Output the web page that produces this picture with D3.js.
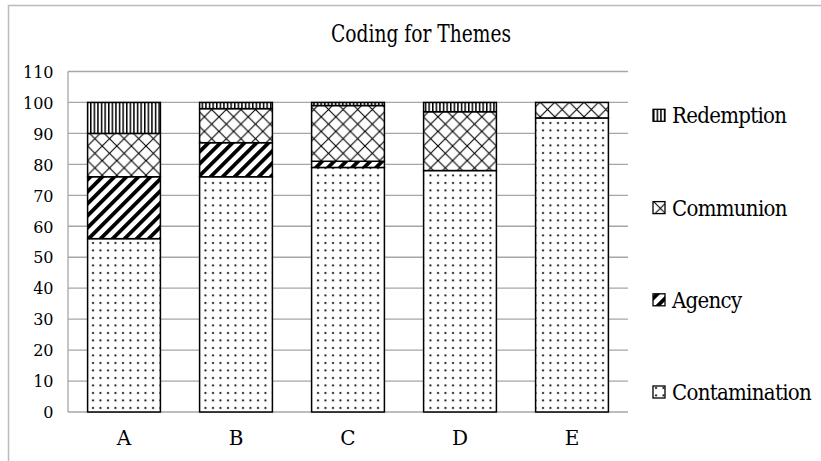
<!DOCTYPE html>
<html><head><meta charset="utf-8">
<script src="https://cdn.jsdelivr.net/npm/d3@7"></script>
<style>
body{margin:0;background:#fff;}
text{font-family:"DejaVu Serif Condensed","DejaVu Serif",serif;}
</style></head>
<body><svg id="chart" width="821" height="461"></svg>
<script>
const categories = ["A","B","C","D","E"];
const seriesNames = ["Contamination","Agency","Communion","Redemption"];
const contamination = [56, 76, 79, 78, 95];
const agency        = [20, 11, 2, 0, 0];
const communion     = [14, 11, 18, 19, 5];
const redemption    = [10, 2, 1, 3, 0];
const yTicks = [0,10,20,30,40,50,60,70,80,90,100,110];

const data = categories.map((c,i)=>({cat:c, Contamination:contamination[i], Agency:agency[i], Communion:communion[i], Redemption:redemption[i]}));

const svg = d3.select("#chart");
const defs = svg.append("defs");

// patterns
const pDots = defs.append("pattern").attr("id","p-Contamination").attr("patternUnits","userSpaceOnUse").attr("width",7.5).attr("height",7.5);
pDots.append("rect").attr("width",7.5).attr("height",7.5).attr("fill","#fff");
pDots.append("circle").attr("cx",3).attr("cy",3).attr("r",1.05).attr("fill","#000");

const pAg = defs.append("pattern").attr("id","p-Agency").attr("patternUnits","userSpaceOnUse").attr("width",8.5).attr("height",8.5).attr("patternTransform","rotate(45)");
pAg.append("rect").attr("width",8.5).attr("height",8.5).attr("fill","#fff");
pAg.append("rect").attr("width",3.8).attr("height",8.5).attr("fill","#000");

const pCo = defs.append("pattern").attr("id","p-Communion").attr("patternUnits","userSpaceOnUse").attr("width",14.6).attr("height",14.6);
pCo.append("rect").attr("width",14.6).attr("height",14.6).attr("fill","#fff");
pCo.append("path").attr("d","M0,0L14.6,14.6M14.6,0L0,14.6M-1,13.6L1,15.6M13.6,-1L15.6,1").attr("stroke","#000").attr("stroke-width",1.1);

const pRe = defs.append("pattern").attr("id","p-Redemption").attr("patternUnits","userSpaceOnUse").attr("width",3.6).attr("height",4);
pRe.append("rect").attr("width",3.6).attr("height",4).attr("fill","#fff");
pRe.append("rect").attr("width",1.5).attr("height",4).attr("fill","#000");

// frame
svg.append("rect").attr("x",8.5).attr("y",5.5).attr("width",830).attr("height",470).attr("fill","none").attr("stroke","#bbb").attr("stroke-width",1.5);

const margin = {left:68, right:628, top:71.5, bottom:412};
const x = d3.scaleBand().domain(categories).range([margin.left, margin.right]).paddingInner(0.35).paddingOuter(0.175);
const y = d3.scaleLinear().domain([0,110]).range([margin.bottom, margin.top]);

// gridlines
svg.append("g").selectAll("line").data(yTicks).join("line")
  .attr("x1",margin.left).attr("x2",margin.right)
  .attr("y1",d=>y(d)).attr("y2",d=>y(d))
  .attr("stroke","#a6a6a6").attr("stroke-width",1.3);
svg.append("line").attr("x1",margin.left).attr("x2",margin.left).attr("y1",y(0)).attr("y2",y(110)).attr("stroke","#a6a6a6").attr("stroke-width",1.3);

// y axis labels
const yAxis = d3.axisLeft(y).tickValues(yTicks).tickSize(0).tickPadding(14.5);
const gy = svg.append("g").attr("transform",`translate(${margin.left},0)`).call(yAxis);
gy.select(".domain").remove();
gy.selectAll("text").attr("font-size",16).attr("fill","#000").attr("dy","0.36em").style("font-family",'"DejaVu Serif",serif');

// x axis labels
const xAxis = d3.axisBottom(x).tickSize(0).tickPadding(0);
const gx = svg.append("g").attr("transform",`translate(0,${margin.bottom})`).call(xAxis);
gx.select(".domain").remove();
gx.selectAll("text").attr("font-size",20).attr("fill","#000").attr("y",33).attr("dy",0).style("font-family",'"DejaVu Serif",serif');

// stacked bars
const stack = d3.stack().keys(seriesNames);
const layers = stack(data);
svg.append("g").selectAll("g").data(layers).join("g")
  .attr("fill",d=>`url(#p-${d.key})`)
  .selectAll("rect").data(d=>d.filter(s=>s[1]-s[0]>0)).join("rect")
  .attr("x",d=>x(d.data.cat)).attr("width",x.bandwidth())
  .attr("y",d=>y(d[1])).attr("height",d=>y(d[0])-y(d[1]))
  .attr("stroke","#000").attr("stroke-width",1.5);

// title
svg.append("text").attr("x",421).attr("y",41.7).attr("text-anchor","middle").attr("font-size",24).attr("fill","#000")
  .attr("textLength",180).attr("lengthAdjust","spacingAndGlyphs").text("Coding for Themes");

// legend
const legendY = {Redemption:123.3, Communion:215.6, Agency:307.8, Contamination:400};
const lg = svg.append("g").selectAll("g").data(seriesNames).join("g")
  .attr("transform",d=>`translate(653,${legendY[d]})`);
lg.append("rect").attr("x",0).attr("y",-14).attr("width",12).attr("height",12).attr("fill",d=>`url(#p-${d})`).attr("stroke","#000").attr("stroke-width",1.3);
lg.append("text").attr("x",19).attr("y",0).attr("font-size",22).attr("letter-spacing",-0.7).attr("fill","#000").text(d=>d);
</script></body></html>
